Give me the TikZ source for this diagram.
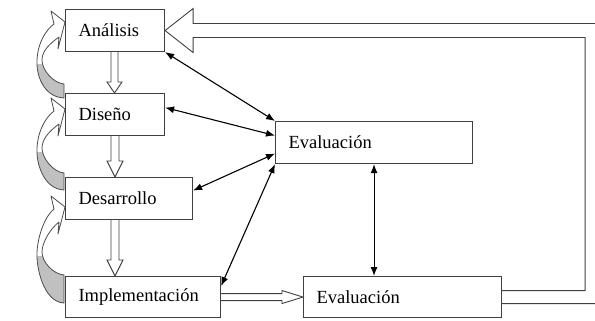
\documentclass[tikz,border=0pt]{standalone}
\usepackage{fontspec}
\setmainfont{Liberation Serif}
\usetikzlibrary{arrows.meta,calc}
\newcommand\ribbon[4]{%
  \begin{scope}[shift={(#1)}]
    \def\rband{(-1,#3) .. controls (-22,{#3-1}) and (-29,{#2+14}) .. (-28,#2)
      .. controls (-27,{#2-18}) and (-19,20) .. (-11,14) -- (-14,1) -- (0,12) -- (-7,39) -- (-6,27)
      .. controls (-14,33) and (-23,{#2-10}) .. (-23,#2)
      .. controls (-23,{#2+10}) and (-12,{#4-1}) .. (-1,#4) -- cycle}
    \fill[white] \rband;
    \begin{scope}
      \clip \rband;
      \fill[ribgray] (-40,{#2+4}) rectangle (2,{#3+5});
    \end{scope}
    \draw[rib] \rband;
  \end{scope}}
\definecolor{ribgray}{RGB}{192,192,192}
\begin{document}
\begin{tikzpicture}[x=1pt,y=-1pt,
  box/.style={draw=black!75, line width=1.1pt, fill=white, rectangle, anchor=north west,
    inner xsep=13pt, inner ysep=0pt, align=left, font=\fontsize{18.5}{20}\selectfont},
  hollow/.style={draw=black!75, line width=0.9pt, fill=white, line join=miter},
  dbl/.style={{Latex[length=9pt,width=7pt]}-{Latex[length=9pt,width=7pt]}, line width=1.1pt, black},
  rib/.style={draw=black!70, line width=0.8pt, line join=round},
]
\useasboundingbox (0,0) rectangle (595,321);
% boxes
\node[box, text width=73pt, minimum height=42pt] (ana) at (65,9) {Análisis};
\node[box, text width=73pt, minimum height=42pt] (dis) at (65,93) {Diseño};
\node[box, text width=101pt, minimum height=42pt] (des) at (65,177) {Desarrollo};
\node[box, text width=129pt, minimum height=41pt] (imp) at (65,276) {Implementación};
\node[box, text width=171pt, minimum height=42pt] (ev1) at (275,121) {Evaluación};
\node[box, text width=172pt, minimum height=41pt] (ev2) at (303,276) {Evaluación};
% curved feedback arrows
\ribbon{$(ana.north west)+(0,1)$}{50}{88}{74}
\ribbon{$(dis.north west)+(0,4)$}{51}{93}{76}
\ribbon{$(des.north west)+(0,18)$}{57}{108}{80}
% hollow down arrows
\draw[hollow] ($(ana.south west)+(46,0)$) -- ($(dis.north west)+(46,-11)$) -- ($(dis.north west)+(42,-11)$)
  -- ($(dis.north west)+(49.5,0)$) -- ($(dis.north west)+(57,-11)$) -- ($(dis.north west)+(53,-11)$)
  -- ($(ana.south west)+(53,0)$);
\draw[hollow] ($(dis.south west)+(46,0)$) -- ($(des.north west)+(46,-16)$) -- ($(des.north west)+(42,-16)$)
  -- ($(des.north west)+(50,0)$) -- ($(des.north west)+(58,-16)$) -- ($(des.north west)+(54,-16)$)
  -- ($(dis.south west)+(54,0)$);
\draw[hollow] ($(des.south west)+(46,0)$) -- ($(imp.north west)+(46,-16)$) -- ($(imp.north west)+(42,-16)$)
  -- ($(imp.north west)+(50,0)$) -- ($(imp.north west)+(58,-16)$) -- ($(imp.north west)+(54,-16)$)
  -- ($(des.south west)+(54,0)$);
% hollow right arrow
\draw[hollow] ($(imp.east)+(0,-3.5)$) -- ($(ev2.west)+(-21,-3.5)$) -- ($(ev2.west)+(-21,-6.5)$)
  -- (ev2.west) -- ($(ev2.west)+(-21,6.5)$) -- ($(ev2.west)+(-21,3.5)$) -- ($(imp.east)+(0,3.5)$);
% big return arrow
\draw[hollow, fill=none] ($(ev2.east)+(0,-6.5)$) -- ($(ev2.east)+(83,-6.5)$) |- ($(ana.east)+(28,7)$)
  -- ($(ana.east)+(28,22)$) -- (ana.east) -- ($(ana.east)+(28,-22)$) -- ($(ana.east)+(28,-7)$)
  -| ($(ev2.east)+(96,6.5)$) -- ($(ev2.east)+(0,6.5)$);
% double arrows
\draw[dbl] (ana.south east) -- (ev1.north west);
\draw[dbl] ($(dis.east)+(0,-7)$) -- ($(ev1.west)+(0,-7)$);
\draw[dbl] ($(des.east)+(0,-8)$) -- ($(ev1.west)+(0,11)$);
\draw[dbl] ($(imp.north east)+(0,10)$) -- (ev1.south west);
\draw[dbl] (ev1.south) -- (ev1.south |- ev2.north);
\end{tikzpicture}
\end{document}
